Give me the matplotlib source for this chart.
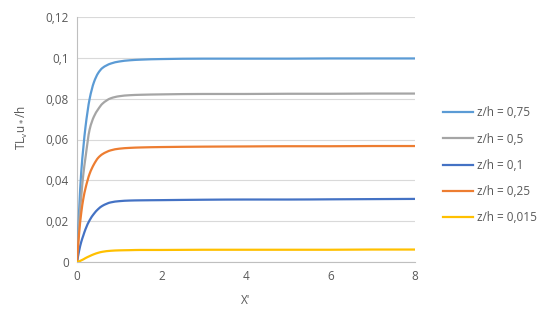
import matplotlib
matplotlib.use("Agg")
import matplotlib.pyplot as plt
import numpy as np
from matplotlib.path import Path
from matplotlib.patches import PathPatch
from matplotlib.lines import Line2D
from matplotlib.ticker import FuncFormatter

x = [0, 0.05, 0.1, 0.15, 0.2, 0.3, 0.4, 0.5, 0.6, 0.8, 1.0, 1.25, 1.5, 2, 3, 4, 5, 6, 7, 8]

y_075 = [0, 0.025, 0.044, 0.056, 0.066, 0.080, 0.088, 0.0925, 0.095, 0.0972, 0.0982, 0.0988,
         0.0991, 0.0994, 0.0996, 0.0996, 0.0996, 0.0997, 0.0997, 0.0997]
y_05 = [0, 0.019, 0.032, 0.043, 0.051, 0.065, 0.0712, 0.0748, 0.0775, 0.0802, 0.0812, 0.0817,
        0.0819, 0.0821, 0.0823, 0.0823, 0.0824, 0.0824, 0.0825, 0.0825]
y_01 = [0, 0.0055, 0.0098, 0.013, 0.016, 0.0205, 0.0236, 0.0259, 0.0275, 0.0292, 0.0298, 0.0301,
        0.0302, 0.0303, 0.0305, 0.0306, 0.0306, 0.0307, 0.0308, 0.0309]
y_025 = [0, 0.014, 0.024, 0.031, 0.036, 0.0433, 0.0478, 0.051, 0.0528, 0.0547, 0.0555, 0.0559,
         0.0561, 0.0563, 0.0565, 0.0566, 0.0567, 0.0567, 0.0568, 0.0568]
y_0015 = [0, 0.0003, 0.0008, 0.0013, 0.0019, 0.0029, 0.0038, 0.0045, 0.0050, 0.0055, 0.0057, 0.0058,
          0.0059, 0.0059, 0.0060, 0.0060, 0.0060, 0.0060, 0.0061, 0.0061]

labels = ["z/h = 0,75", "z/h = 0,5", "z/h = 0,1", "z/h = 0,25", "z/h = 0,015"]
colors = ["#5b9bd5", "#a5a5a5", "#4472c4", "#ed7d31", "#ffc000"]
series = [y_075, y_05, y_01, y_025, y_0015]

plt.rcParams['font.family'] = ['Open Sans', 'DejaVu Sans']


def smooth_path(xs, ys):
    """Monotone cubic Hermite through the data points, drawn as Bezier segments."""
    xs = np.asarray(xs, float)
    ys = np.asarray(ys, float)
    h = np.diff(xs)
    d = np.diff(ys) / h
    n = len(xs)
    m = np.zeros(n)
    m[0] = d[0]
    m[-1] = d[-1]
    for i in range(1, n - 1):
        if d[i - 1] * d[i] <= 0:
            m[i] = 0
        else:
            w1 = 2 * h[i] + h[i - 1]
            w2 = h[i] + 2 * h[i - 1]
            m[i] = (w1 + w2) / (w1 / d[i - 1] + w2 / d[i])
    verts = [(xs[0], ys[0])]
    codes = [Path.MOVETO]
    for i in range(n - 1):
        verts += [(xs[i] + h[i] / 3, ys[i] + m[i] * h[i] / 3),
                  (xs[i + 1] - h[i] / 3, ys[i + 1] - m[i + 1] * h[i] / 3),
                  (xs[i + 1], ys[i + 1])]
        codes += [Path.CURVE4] * 3
    return Path(verts, codes)


fig = plt.figure(figsize=(5.45, 3.24), dpi=100)
ax = fig.add_axes([77/545, 1-262/324, (415-77)/545, (262-17)/324])

handles = []
for ys, c, lab in zip(series, colors, labels):
    patch = PathPatch(smooth_path(x, ys), facecolor='none', edgecolor=c, lw=1.6,
                      capstyle='round', joinstyle='round', zorder=3)
    ax.add_patch(patch)
    handles.append(Line2D([], [], color=c, lw=1.6, label=lab))

ax.set_xlim(0, 8)
ax.set_ylim(0, 0.12)
ax.set_xticks([0, 2, 4, 6, 8])
ax.set_yticks([0, 0.02, 0.04, 0.06, 0.08, 0.1, 0.12])


def yfmt(v, pos):
    if abs(v) < 1e-12:
        return "0"
    s = f"{v:.2f}".rstrip("0")
    return s.replace(".", ",")


ax.yaxis.set_major_formatter(FuncFormatter(yfmt))
ax.grid(axis='y', color='#d9d9d9', lw=0.8)
ax.set_axisbelow(True)
for s in ['top', 'right']:
    ax.spines[s].set_visible(False)
for s in ['left', 'bottom']:
    ax.spines[s].set_color('#bfbfbf')
    ax.spines[s].set_linewidth(0.8)
ax.tick_params(length=0, labelsize=8.5, labelcolor='#595959', pad=6)

ax.set_xlabel("X'", fontsize=8.5, color='#595959', labelpad=8)
ax.set_ylabel(r"TL$_\mathregular{v}$u$_*$/h", fontsize=8.5, color='#595959')
ax.yaxis.set_label_coords(-0.14, 0.55)

leg = ax.legend(handles=handles, loc='center left', bbox_to_anchor=(1.05, 0.395), frameon=False,
                fontsize=8.5, handlelength=2.6, labelspacing=1.12, handletextpad=0.3)
for t in leg.get_texts():
    t.set_color('#595959')

fig.savefig("out.png", dpi=100)
